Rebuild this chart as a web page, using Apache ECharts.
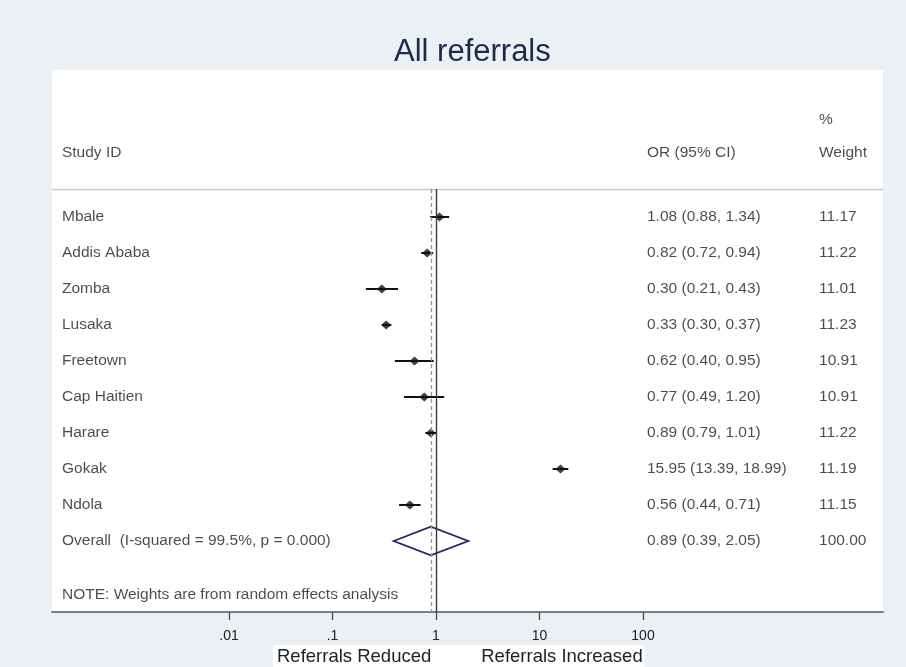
<!DOCTYPE html>
<html>
<head>
<meta charset="utf-8">
<script src="https://cdn.jsdelivr.net/npm/echarts@6/dist/echarts.min.js"></script>
<style>html,body{margin:0;padding:0;background:#eaf0f4;}#c{width:906px;height:667px;}</style>
</head>
<body>
<div id="c"></div>
<script>
// ---- data ----
const studies = ['Mbale','Addis Ababa','Zomba','Lusaka','Freetown','Cap Haitien','Harare','Gokak','Ndola'];
const orEst  = [1.08, 0.82, 0.30, 0.33, 0.62, 0.77, 0.89, 15.95, 0.56];
const ciLow  = [0.88, 0.72, 0.21, 0.30, 0.40, 0.49, 0.79, 13.39, 0.44];
const ciHigh = [1.34, 0.94, 0.43, 0.37, 0.95, 1.20, 1.01, 18.99, 0.71];
const weights = ['11.17','11.22','11.01','11.23','10.91','10.91','11.22','11.19','11.15'];
const overallLabel = 'Overall  (I-squared = 99.5%, p = 0.000)';
const overallEst = 0.89, overallLow = 0.39, overallHigh = 2.05;
const overallWeight = '100.00';
const noteText = 'NOTE: Weights are from random effects analysis';
const tickValues = [0.01, 0.1, 1, 10, 100];
const tickLabels = ['.01', '.1', '1', '10', '100'];
const headerStudy = 'Study ID', headerOR = 'OR (95% CI)', headerPct = '%', headerWeight = 'Weight';
const titleText = 'All referrals';
const xTitleLeft = 'Referrals Reduced', xTitleRight = 'Referrals Increased';

// ---- build ----
const L = Math.log10;
const fmt = v => v.toFixed(2);
const orText = orEst.map((v,i) => fmt(v) + ' (' + fmt(ciLow[i]) + ', ' + fmt(ciHigh[i]) + ')');
const overallText = fmt(overallEst) + ' (' + fmt(overallLow) + ', ' + fmt(overallHigh) + ')';
const nRows = studies.length;
const overallRow = nRows;
const noteRow = nRows + 1.5;
const headerRow = -1.78, pctRow = -2.7, sepRow = -0.78;
const colName = 0.012, colOR = 0.716, colW = 0.923;

const texts = [];
texts.push({name: headerStudy, value:[colName, headerRow]});
texts.push({name: headerOR, value:[colOR, headerRow]});
texts.push({name: headerPct, value:[colW, pctRow]});
texts.push({name: headerWeight, value:[colW, headerRow]});
studies.forEach((s,i) => {
  texts.push({name: s, value:[colName, i]});
  texts.push({name: orText[i], value:[colOR, i]});
  texts.push({name: weights[i], value:[colW, i]});
});
texts.push({name: overallLabel, value:[colName, overallRow]});
texts.push({name: overallText, value:[colOR, overallRow]});
texts.push({name: overallWeight, value:[colW, overallRow]});
texts.push({name: noteText, value:[colName, noteRow]});

const ciData = studies.map((s,i) => [L(ciLow[i]), L(ciHigh[i]), i]);
const ptData = studies.map((s,i) => [L(orEst[i]), i]);
const yMin = -4.083, yMax = 10.972;
const xMin = (52-436)/103.5, xMax = (883-436)/103.5;
const FONT = '"Liberation Sans", Arial, sans-serif';

const chart = echarts.init(document.getElementById('c'));
chart.setOption({
  backgroundColor: '#eaf0f4',
  animation: false,
  title: [
    { text: titleText, left: 389, top: 32,
      textStyle: { fontFamily: FONT, fontSize: 31, fontWeight: 'normal', color: '#1e2a4c' } },
    { text: '{a|' + xTitleLeft + '}{g|}{a|' + xTitleRight + '}', left: 273, top: 644,
      backgroundColor: '#ffffff', padding: [2, 2, 2, 4],
      textStyle: { fontWeight: 'normal', rich: {
        a: { fontFamily: FONT, fontSize: 18.5, fontWeight: 'normal', color: '#222', lineHeight: 21 },
        g: { width: 50 } } } }
  ],
  grid: { left: 52, right: 23, top: 70, bottom: 55, show: true, backgroundColor: '#ffffff', borderWidth: 0 },
  xAxis: [
    { type: 'value', min: xMin, max: xMax,
      splitLine: { show: false },
      axisLine: { show: true, onZero: false, lineStyle: { color: '#555555', width: 1.7 } },
      axisTick: { show: true, customValues: tickValues.map(L), length: 8, lineStyle: { color: '#555555', width: 1.4 } },
      axisLabel: { show: true, customValues: tickValues.map(L), margin: 17,
        fontFamily: FONT, fontSize: 14, color: '#222',
        formatter: v => { const k = tickValues.findIndex(t => Math.abs(L(t) - v) < 1e-6); return k >= 0 ? tickLabels[k] : ''; } } },
    { type: 'value', min: 0, max: 1, show: false, splitLine: { show: false } }
  ],
  yAxis: { type: 'value', inverse: true, min: yMin, max: yMax, show: false, splitLine: { show: false } },
  series: [
    { type: 'line', xAxisIndex: 0, data: [], silent: true,
      markLine: { silent: true, symbol: 'none', label: { show: false },
        data: [
          [{ coord: [xMin, sepRow], lineStyle: { color: '#c8c8c8', width: 1.3, type: 'solid' } },
           { coord: [xMax, sepRow] }],
          [{ coord: [0, sepRow], lineStyle: { color: '#3a3a3a', width: 1.4, type: 'solid' } }, { coord: [0, yMax] }],
          [{ coord: [L(overallEst), sepRow], lineStyle: { color: '#c77f9c', width: 1.4, type: [4, 3] } }, { coord: [L(overallEst), yMax] }]
        ] } },
    { type: 'custom', xAxisIndex: 0, data: ciData, encode: { x: [0, 1], y: 2 },
      renderItem: (params, api) => {
        const a = api.coord([api.value(0), api.value(2)]);
        const b = api.coord([api.value(1), api.value(2)]);
        return { type: 'line', shape: { x1: a[0], y1: a[1], x2: b[0], y2: b[1] },
          style: { stroke: '#111', lineWidth: 2 } };
      } },
    { type: 'scatter', xAxisIndex: 0, data: ptData, symbol: 'diamond', symbolSize: [10, 9],
      itemStyle: { color: '#111' } },
    { type: 'custom', xAxisIndex: 0, data: [[L(overallLow), L(overallEst), L(overallHigh), overallRow]],
      encode: { x: [0, 2], y: 3 },
      renderItem: (params, api) => {
        const r = api.value(3);
        const p1 = api.coord([api.value(0), r]);
        const p2 = api.coord([api.value(1), r - 0.4]);
        const p3 = api.coord([api.value(2), r]);
        const p4 = api.coord([api.value(1), r + 0.4]);
        return { type: 'polygon', shape: { points: [p1, p2, p3, p4] },
          style: { fill: 'none', stroke: '#23236b', lineWidth: 1.8 } };
      } },
    { type: 'scatter', xAxisIndex: 1, data: texts, symbolSize: 0, silent: true,
      label: { show: true, position: 'right', distance: 0, formatter: '{b}',
        fontFamily: FONT, fontSize: 15.5, color: '#1e1e1e' } }
  ]
});
</script>
</body>
</html>
